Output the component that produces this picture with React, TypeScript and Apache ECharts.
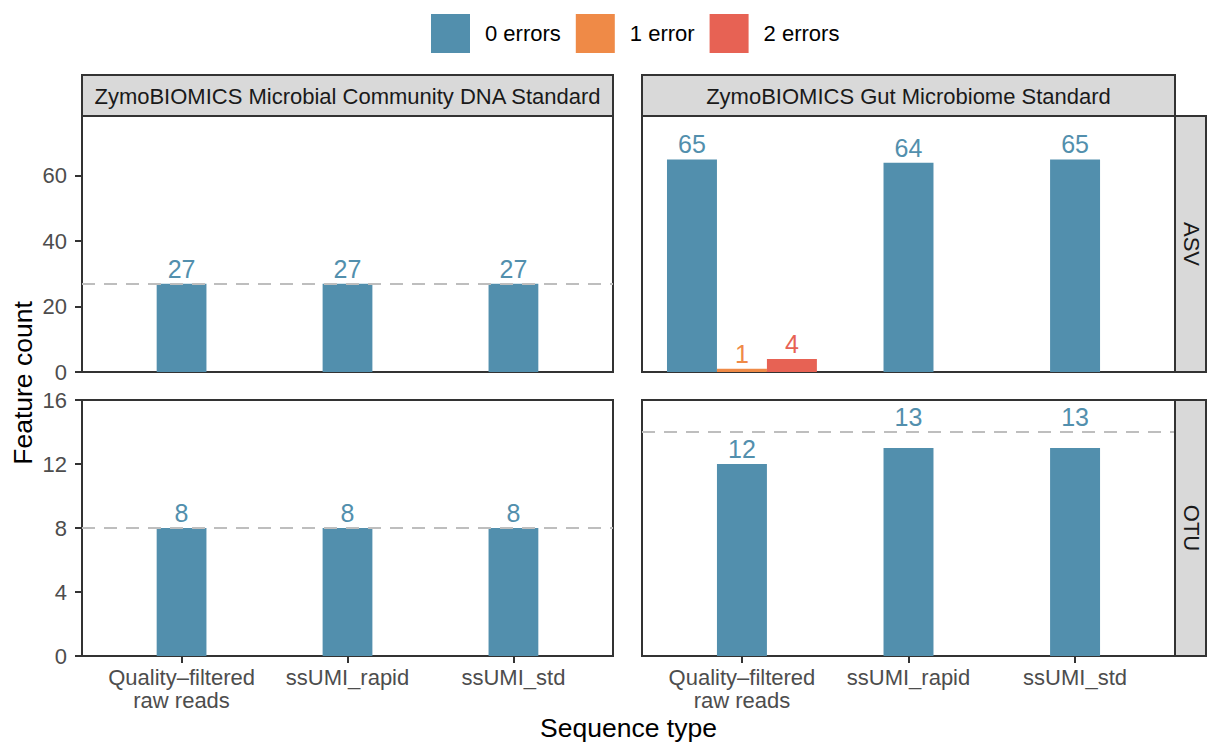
import React, { useEffect, useRef } from "react";
import * as echarts from "echarts";

const categories = ["Quality–filtered\nraw reads", "ssUMI_rapid", "ssUMI_std"];
const errorLevels = ["0 errors", "1 error", "2 errors"];
const errorColors = ["#528fad", "#ef8a47", "#e76254"];
const standards = ["ZymoBIOMICS Microbial Community DNA Standard", "ZymoBIOMICS Gut Microbiome Standard"];
const featureTypes = ["ASV", "OTU"];

// counts per error level, per sequence type
const dnaAsv0 = [27, 27, 27];
const dnaOtu0 = [8, 8, 8];
const gutAsv0 = [65, 64, 65];
const gutAsv1 = [1, null, null];
const gutAsv2 = [4, null, null];
const gutOtu0 = [12, 13, 13];

// expected number of features (dashed lines)
const expectedDnaAsv = 27;
const expectedDnaOtu = 8;
const expectedGutAsv: number | null = null;
const expectedGutOtu = 14;

const yTicksAsv = [0, 20, 40, 60];
const yTicksOtu = [0, 4, 8, 12, 16];
const yMaxAsv = 78.3;
const yMaxOtu = 16;

const FONT = "'Liberation Sans', Arial, Helvetica, sans-serif";

type Panel = { row: number; col: number; levels: (number | null)[][]; ref: number | null };

const panels: Panel[] = [
  { row: 0, col: 0, levels: [dnaAsv0, [null, null, null], [null, null, null]], ref: expectedDnaAsv },
  { row: 0, col: 1, levels: [gutAsv0, gutAsv1, gutAsv2], ref: expectedGutAsv },
  { row: 1, col: 0, levels: [dnaOtu0, [null, null, null], [null, null, null]], ref: expectedDnaOtu },
  { row: 1, col: 1, levels: [gutOtu0, [null, null, null], [null, null, null]], ref: expectedGutOtu },
];

const colLeft = [82, 642];
const colWidth = [531, 533];
const rowTop = [116, 400];
const rowHeight = [256, 256];

const BAR_W = 0.3; // dodge width 0.9 / 3 levels
const LABEL_SIZE = 25;
const DIGIT_H = 18;
const GAP = 6;

function buildOption() {
  const grid: any[] = [];
  const xAxis: any[] = [];
  const yAxis: any[] = [];
  const series: any[] = [];
  const tickStyle = { color: "#333333", width: 2 };

  panels.forEach((p, pi) => {
    grid.push({
      left: colLeft[p.col],
      top: rowTop[p.row],
      width: colWidth[p.col],
      height: rowHeight[p.row],
      show: true,
      borderColor: "#333333",
      borderWidth: 2,
      backgroundColor: "#ffffff",
      containLabel: false,
      outerBoundsMode: "none",
    });
    const bottom = p.row === 1;
    xAxis.push({
      gridIndex: pi,
      type: "value",
      min: 0.4,
      max: 3.6,
      axisLine: { show: false },
      splitLine: { show: false },
      axisTick: { show: bottom, customValues: [1, 2, 3], length: 7, lineStyle: tickStyle },
      axisLabel: {
        show: bottom,
        customValues: [1, 2, 3],
        formatter: (v: number) => categories[Math.round(v) - 1] ?? "",
        color: "#4d4d4d",
        fontSize: 22,
        lineHeight: 23,
        margin: 10,
        fontFamily: FONT,
      },
    });
    const left = p.col === 0;
    const ticks = p.row === 0 ? yTicksAsv : yTicksOtu;
    yAxis.push({
      gridIndex: pi,
      type: "value",
      min: 0,
      max: p.row === 0 ? yMaxAsv : yMaxOtu,
      axisLine: { show: false },
      splitLine: { show: false },
      axisTick: { show: left, customValues: ticks, length: 7, lineStyle: tickStyle },
      axisLabel: {
        show: left,
        customValues: ticks,
        color: "#4d4d4d",
        fontSize: 22,
        margin: 15,
        fontFamily: FONT,
      },
    });

    // dodge positions
    const present: number[][] = categories.map((_, ci) =>
      p.levels.map((arr, li) => (arr[ci] != null ? li : -1)).filter((li) => li >= 0)
    );
    const ref = p.ref;

    p.levels.forEach((arr, li) => {
      const data: number[][] = [];
      arr.forEach((v, ci) => {
        if (v == null) return;
        const n = present[ci].length;
        const k = present[ci].indexOf(li);
        data.push([ci + 1 + (k - (n - 1) / 2) * BAR_W, v]);
      });
      if (!data.length) return;
      series.push({
        type: "custom",
        name: errorLevels[li],
        xAxisIndex: pi,
        yAxisIndex: pi,
        itemStyle: { color: errorColors[li] },
        encode: { x: 0, y: 1 },
        data,
        z: 2,
        renderItem: (params: any, api: any) => {
          const x = api.value(0) as number;
          const v = api.value(1) as number;
          const base = api.coord([x - BAR_W / 2, 0]);
          const top = api.coord([x + BAR_W / 2, v]);
          const color = errorColors[li];
          const barTop = top[1];
          let cy = barTop - GAP - DIGIT_H / 2;
          if (ref != null) {
            const ly = api.coord([x, ref])[1];
            if (ly < barTop - 1 && ly > barTop - GAP - DIGIT_H - 2) cy = ly - GAP - DIGIT_H / 2;
          }
          return {
            type: "group",
            children: [
              {
                type: "rect",
                shape: { x: base[0], y: barTop, width: top[0] - base[0], height: base[1] - barTop },
                style: { fill: color },
              },
              {
                type: "text",
                x: (base[0] + top[0]) / 2,
                y: cy,
                style: {
                  text: String(v),
                  align: "center",
                  verticalAlign: "middle",
                  fill: color,
                  fontSize: LABEL_SIZE,
                  fontFamily: FONT,
                },
              },
            ],
          };
        },
      });
    });

    if (ref != null) {
      series.push({
        type: "line",
        xAxisIndex: pi,
        yAxisIndex: pi,
        data: [],
        z: 5,
        markLine: {
          silent: true,
          symbol: ["none", "none"],
          label: { show: false },
          lineStyle: { color: "#bebebe", type: [13, 9], width: 2.2 },
          data: [{ yAxis: ref }],
          z: 5,
        },
      });
    }
  });

  const graphic: any[] = [];
  // top strips
  [0, 1].forEach((c) => {
    graphic.push({
      type: "rect",
      z: 10,
      shape: { x: colLeft[c], y: 75, width: colWidth[c], height: 41 },
      style: { fill: "#d9d9d9", stroke: "#333333", lineWidth: 2 },
    });
    graphic.push({
      type: "text",
      z: 11,
      x: colLeft[c] + colWidth[c] / 2,
      y: 96,
      style: {
        text: standards[c],
        align: "center",
        verticalAlign: "middle",
        fill: "#1a1a1a",
        fontSize: 22,
        fontFamily: FONT,
      },
    });
  });
  // right strips
  [0, 1].forEach((r) => {
    graphic.push({
      type: "rect",
      z: 10,
      shape: { x: 1175, y: rowTop[r], width: 31, height: rowHeight[r] },
      style: { fill: "#d9d9d9", stroke: "#333333", lineWidth: 2 },
    });
    graphic.push({
      type: "text",
      z: 11,
      x: 1191,
      y: rowTop[r] + rowHeight[r] / 2,
      rotation: -Math.PI / 2,
      style: {
        text: featureTypes[r],
        align: "center",
        verticalAlign: "middle",
        fill: "#1a1a1a",
        fontSize: 22,
        fontFamily: FONT,
      },
    });
  });
  graphic.push({
    type: "text",
    x: 23,
    y: 383,
    rotation: Math.PI / 2,
    style: {
      text: "Feature count",
      align: "center",
      verticalAlign: "middle",
      fill: "#000000",
      fontSize: 26.5,
      fontFamily: FONT,
    },
  });
  graphic.push({
    type: "text",
    x: 628.5,
    y: 728,
    style: {
      text: "Sequence type",
      align: "center",
      verticalAlign: "middle",
      fill: "#000000",
      fontSize: 26.5,
      fontFamily: FONT,
    },
  });

  return {
    animation: false,
    backgroundColor: "#ffffff",
    legend: {
      data: errorLevels,
      left: 431,
      top: 14,
      padding: 0,
      orient: "horizontal",
      icon: "rect",
      itemWidth: 39,
      itemHeight: 39,
      itemGap: 15,
      textStyle: { fontSize: 22, color: "#000000", fontFamily: FONT, padding: [0, 0, 0, 10] },
      selectedMode: false,
    },
    grid,
    xAxis,
    yAxis,
    series,
    graphic,
  };
}

export default function App() {
  const ref = useRef<HTMLDivElement>(null);
  useEffect(() => {
    if (!ref.current) return;
    const chart = echarts.init(ref.current, undefined, { renderer: "svg" });
    chart.setOption(buildOption() as any);
    return () => chart.dispose();
  }, []);
  return (
    <div
      ref={ref}
      style={{ position: "fixed", left: 0, top: 0, width: 1207, height: 742, background: "#ffffff" }}
    />
  );
}
